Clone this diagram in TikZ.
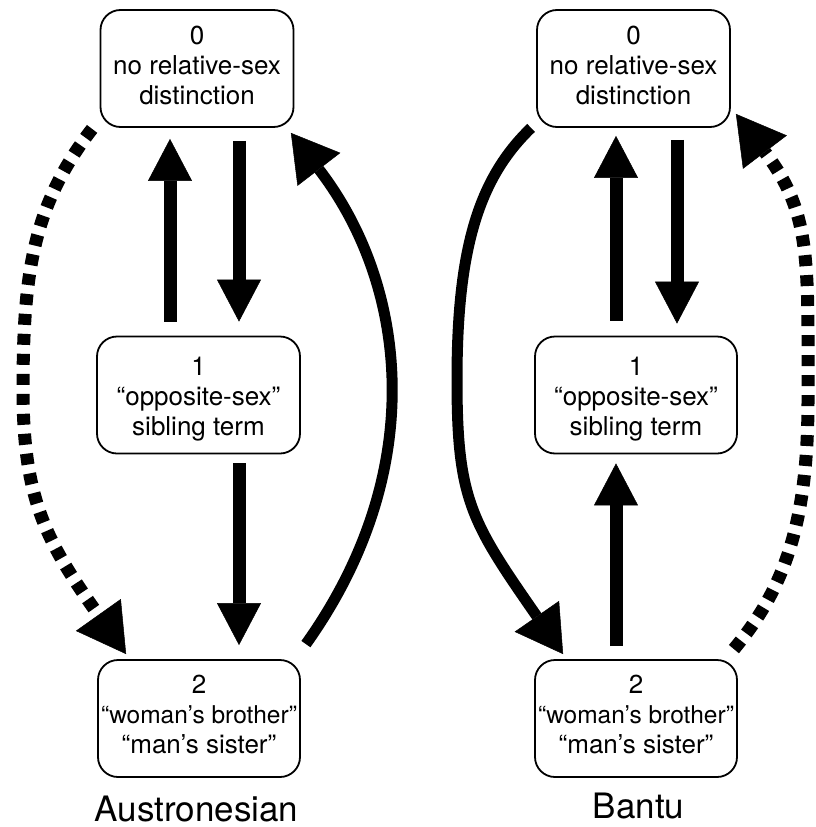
\documentclass[tikz,border=0pt]{standalone}
\usepackage{fontspec}
\setmainfont{TeX Gyre Heros}
\usetikzlibrary{arrows.meta}
\begin{document}
\begin{tikzpicture}[x=1pt,y=-1pt,
  box/.style={draw, line width=1.8pt, rounded corners=20pt, align=center, inner sep=0pt,
    font=\fontsize{26}{30}\selectfont, minimum height=117pt},
  sarr/.style={line width=13pt, -{Triangle[length=42pt,width=44pt,line width=0.5pt]}},
  carr/.style={line width=11pt, -{Triangle[length=46pt,width=54pt,line width=0.5pt]}},
  darr/.style={line width=13pt, dash pattern=on 11pt off 9pt, -{Triangle[length=48pt,width=55pt,line width=0.5pt]}},
  lab/.style={font=\fontsize{35}{40}\selectfont, anchor=base}]
\useasboundingbox (0,0) rectangle (815,827);

% Austronesian
\node[box, minimum width=193pt] (a0) at (197,68.5) {0\\no relative-sex\\distinction\rule[-6pt]{0pt}{0pt}};
\node[box, minimum width=203pt] (a1) at (198.5,395) {\rule{0pt}{27pt}1\\“opposite-sex”\\sibling term};
\node[box, minimum width=202pt] (a2) at (199,718.5) {2\\{\fontsize{24.5}{30}\selectfont “woman’s brother”}\\“man’s sister”\rule[-8pt]{0pt}{0pt}};
\node[lab] (la) at (196.5,821) {Austronesian};

\draw[sarr] ([shift={(-28.5,-14)}]a1.north) -- ([shift={(-27,11)}]a0.south);
\draw[sarr] ([shift={(42,13)}]a0.south) -- ([shift={(40.5,-14)}]a1.north);
\draw[sarr] ([shift={(40.5,9)}]a1.south) -- ([shift={(40,-14)}]a2.north);
\draw[carr] ([shift={(5,-15)}]a2.north east) .. controls (430,470) and (407.5,284.5) .. ([shift={(-3.5,5)}]a0.south east);
\draw[darr] ([shift={(-7.5,1)}]a0.south west) .. controls (34,204) and (23,270) .. (23,390) .. controls (23,500) and (47,542.5) .. ([shift={(29,-5)}]a2.north west);

% Bantu
\node[box, minimum width=193pt] (b0) at (633.5,68.5) {0\\no relative-sex\\distinction\rule[-6pt]{0pt}{0pt}};
\node[box, minimum width=202pt] (b1) at (636,395) {\rule{0pt}{27pt}1\\“opposite-sex”\\sibling term};
\node[box, minimum width=202pt] (b2) at (636,718.5) {2\\{\fontsize{24.5}{30}\selectfont “woman’s brother”}\\“man’s sister”\rule[-8pt]{0pt}{0pt}};
\node[lab] (lb) at (638.5,818) {Bantu};

\draw[sarr] ([shift={(-20,-15)}]b1.north) -- ([shift={(-17.5,8)}]b0.south);
\draw[sarr] ([shift={(43.5,12)}]b0.south) -- ([shift={(41,-12)}]b1.north);
\draw[sarr] ([shift={(-20,-13)}]b2.north) -- ([shift={(-20,9)}]b1.south);
\draw[carr] ([shift={(-5,0)}]b0.south west) .. controls (478,179) and (457,250) .. (457,380) .. controls (457,500) and (471,521.5) .. ([shift={(29,-5)}]b2.north west);
\draw[darr] ([shift={(-4,-10)}]b2.north east) .. controls (786,587) and (808,520) .. (808,400) .. controls (808,260) and (811.5,213.5) .. ([shift={(5,-14)}]b0.south east);
\end{tikzpicture}
\end{document}
